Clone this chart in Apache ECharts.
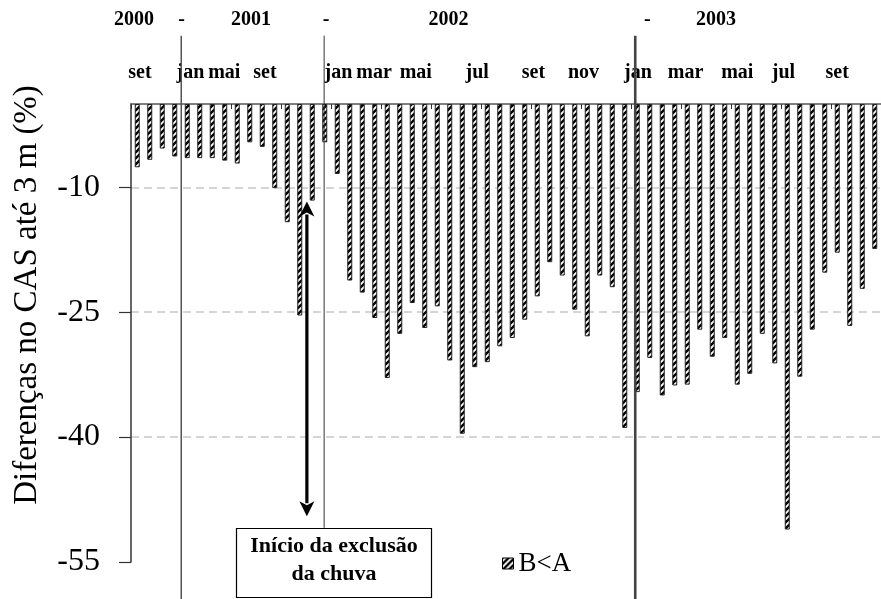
<!DOCTYPE html>
<html><head><meta charset="utf-8">
<script src="https://cdn.jsdelivr.net/npm/echarts@6/dist/echarts.min.js"></script>
<style>html,body{margin:0;padding:0;background:#fff}#c{width:881px;height:599px}</style>
</head><body><div id="c"></div>
<script>
// ---- data ----
const categories = ['1','2','3','4','5','6','7','8','9','10','11','12','13','14','15','16','17','18','19','20',
  '21','22','23','24','25','26','27','28','29','30','31','32','33','34','35','36','37','38','39','40',
  '41','42','43','44','45','46','47','48','49','50','51','52','53','54','55','56','57','58','59','60'];
const values = [-7.6,-6.7,-5.35,-6.3,-6.5,-6.5,-6.5,-6.8,-7.15,-4.6,-5.15,-10.1,
  -14.2,-25.4,-11.6,-4.6,-8.4,-21.2,-22.65,-25.7,-32.9,-27.6,-23.9,-26.9,
  -24.3,-30.8,-39.6,-31.6,-31.0,-29.1,-28.1,-25.9,-23.1,-19.0,-20.6,-24.7,
  -27.9,-20.6,-22.0,-38.9,-34.6,-30.5,-35.0,-33.8,-33.7,-27.1,-30.35,-28.1,
  -33.7,-32.4,-27.6,-31.15,-51.1,-32.75,-27.1,-20.25,-17.85,-26.65,-22.2,-17.4];
const seriesName = 'B<A';
const yTicks = [-55, -40, -25, -10];
const monthLabels = ['set','jan','mai','set','jan','mar','mai','jul','set','nov','jan','mar','mai','jul','set'];
const monthAt = [0.71, 4.76, 7.46, 10.71, 16.59, 19.44, 22.78, 27.7, 32.2, 36.2, 40.56, 44.37, 48.5, 52.2, 56.5];
const yearLabels = ['2000','-','2001','-','2002','-','2003'];
const yearAt = [0.24, 4.05, 9.6, 15.6, 25.4, 41.3, 46.8];
const eventLineAt = [4.02, 15.45, 40.34];
const eventLineBottom = [-59.6, -50.9, -59.6];
const eventLineTop = 8.2;
const arrowAt = 14.07, arrowFrom = -11.7, arrowTo = -49.5;
const noteText = 'Início da exclusão\nda chuva';
const yTitle = 'Diferenças no CAS até 3 m (%)';

// ---- styling helpers ----
function hatch(size, lw) {
  const c = document.createElement('canvas');
  c.width = c.height = size;
  const g = c.getContext('2d');
  g.fillStyle = '#fff'; g.fillRect(0, 0, size, size);
  g.strokeStyle = '#000'; g.lineWidth = lw;
  g.beginPath();
  g.moveTo(0, size); g.lineTo(size, 0);
  g.moveTo(-size / 2, size / 2); g.lineTo(size / 2, -size / 2);
  g.moveTo(size / 2, size * 1.5); g.lineTo(size * 1.5, size / 2);
  g.stroke();
  return c;
}
const pattern = { image: hatch(6, 2.3), repeat: 'repeat' };
const lineStyles = [{ w: 1.5, c: '#555' }, { w: 1, c: '#333' }, { w: 2.6, c: '#444' }];
const serif = '"Liberation Serif", "Times New Roman", serif';

const chart = echarts.init(document.getElementById('c'), null, { renderer: 'canvas' });
chart.setOption({
  animation: false,
  backgroundColor: '#fff',
  grid: { left: 131, right: -6, top: 104, bottom: 37, containLabel: false },
  legend: {
    data: [seriesName], left: 497, top: 545, itemWidth: 11, itemHeight: 11, icon: 'rect',
    itemStyle: { borderColor: '#000', borderWidth: 1 },
    textStyle: { fontFamily: serif, fontSize: 27, color: '#000' }
  },
  xAxis: [
    { type: 'category', data: categories, position: 'top', boundaryGap: true,
      axisLine: { onZero: false, lineStyle: { color: '#555', width: 1.5 } },
      axisTick: { show: true, interval: 3, inside: true, length: 5, lineStyle: { color: '#333' } },
      axisLabel: { show: false }, splitLine: { show: false } },
    { type: 'value', min: 0, max: 60, position: 'top',
      axisLine: { show: false }, axisTick: { show: false }, splitLine: { show: false },
      axisLabel: { customValues: monthAt, formatter: v => monthLabels[monthAt.indexOf(v)] || '',
        margin: 31, verticalAlign: 'middle', fontFamily: serif, fontWeight: 'bold', fontSize: 20, color: '#000' } },
    { type: 'value', min: 0, max: 60, position: 'top',
      axisLine: { show: false }, axisTick: { show: false }, splitLine: { show: false },
      axisLabel: { customValues: yearAt, formatter: v => yearLabels[yearAt.indexOf(v)] || '',
        margin: 84, verticalAlign: 'middle', fontFamily: serif, fontWeight: 'bold', fontSize: 20, color: '#000' } }
  ],
  yAxis: {
    type: 'value', min: -55, max: 0, interval: 15,
    axisLine: { show: true, lineStyle: { color: '#333', width: 1.5 } },
    axisTick: { show: true, length: 12, customValues: yTicks, lineStyle: { color: '#333', width: 1.2 } },
    axisLabel: { customValues: yTicks, margin: 31, fontFamily: serif, fontSize: 32, color: '#000' },
    splitLine: { show: true, showMinLine: false, showMaxLine: true,
      lineStyle: { type: [8, 5], color: '#c8c8c8', width: 1.5 } }
  },
  series: [
    { name: seriesName, type: 'bar', xAxisIndex: 0, yAxisIndex: 0, data: values, barWidth: 5,
      itemStyle: { color: pattern, borderColor: '#222', borderWidth: 1 } },
    { type: 'custom', xAxisIndex: 1, yAxisIndex: 0, silent: true, z: 5, clip: false,
      data: eventLineAt.map((x, i) => [x, eventLineTop, eventLineBottom[i]]),
      renderItem(params, api) {
        const p0 = api.coord([api.value(0), api.value(1)]);
        const p1 = api.coord([api.value(0), api.value(2)]);
        const st = lineStyles[params.dataIndex];
        return { type: 'line', shape: { x1: p0[0], y1: p0[1], x2: p1[0], y2: p1[1] },
          style: { stroke: st.c, lineWidth: st.w } };
      } },
    { type: 'custom', xAxisIndex: 1, yAxisIndex: 0, silent: true, z: 6, clip: false,
      data: [[arrowAt, arrowFrom, arrowTo]],
      renderItem(params, api) {
        const a = api.coord([api.value(0), api.value(1)]);
        const b = api.coord([api.value(0), api.value(2)]);
        const hl = 15, hw = 7.5;
        return { type: 'group', children: [
          { type: 'line', shape: { x1: a[0], y1: a[1] + hl - 2, x2: b[0], y2: b[1] - hl + 2 },
            style: { stroke: '#000', lineWidth: 3.2 } },
          { type: 'polygon', shape: { points: [[a[0], a[1]], [a[0] - hw, a[1] + hl], [a[0], a[1] + hl - 4], [a[0] + hw, a[1] + hl]] },
            style: { fill: '#000' } },
          { type: 'polygon', shape: { points: [[b[0], b[1]], [b[0] - hw, b[1] - hl], [b[0], b[1] - hl + 4], [b[0] + hw, b[1] - hl]] },
            style: { fill: '#000' } }
        ] };
      } }
  ],
  graphic: [
    { type: 'text', x: 27, y: 295, rotation: Math.PI / 2,
      style: { text: yTitle, font: '33px ' + serif, fill: '#000', align: 'center', verticalAlign: 'middle' } },
    { type: 'rect', shape: { x: 236.5, y: 528.5, width: 195, height: 69 },
      style: { fill: '#fff', stroke: '#000', lineWidth: 1.2 }, z: 10 },
    { type: 'text', x: 334, y: 560, z: 11,
      style: { text: noteText, font: 'bold 22px ' + serif, fill: '#000', align: 'center', verticalAlign: 'middle', lineHeight: 28 } }
  ]
});
</script>
</body></html>
